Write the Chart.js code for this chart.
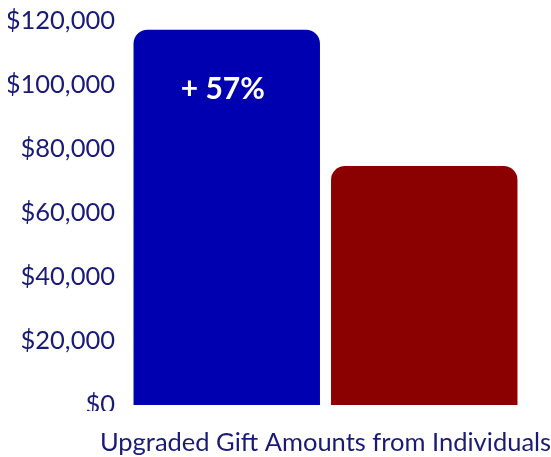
<!DOCTYPE html>
<html>
<head>
<meta charset="utf-8">
<script src="https://cdn.jsdelivr.net/npm/chart.js@4"></script>
<style>
  html, body { margin: 0; padding: 0; background: #fff; }
  #wrap { width: 551px; height: 457px; }
</style>
</head>
<body>
<div id="wrap"><canvas id="myChart" width="551" height="457"></canvas></div>
<script>
// chart data
const categories = ['Upgraded Gift Amounts from Individuals'];
const upgradedValues = [117300];
const previousValues = [74700];
const barLabel = '+ 57%';
const yTicks = [0, 20000, 40000, 60000, 80000, 100000, 120000];

const navy = '#1a1a78';

// draws the percent label inside the first bar
const barLabelPlugin = {
    id: 'barLabel',
    afterDatasetsDraw(chart) {
        const bar = chart.getDatasetMeta(0).data[0];
        const ctx = chart.ctx;
        ctx.save();
        ctx.fillStyle = '#ffffff';
        ctx.font = 'bold 30px Lato';
        ctx.textAlign = 'center';
        ctx.textBaseline = 'middle';
        ctx.fillText(barLabel, bar.x - 4, bar.y + 60);
        ctx.restore();
    },
    afterDraw(chart) {
        // the original cuts off the bottom of the $0 label
        const y = chart.scales.y;
        const ctx = chart.ctx;
        ctx.save();
        ctx.fillStyle = '#ffffff';
        ctx.fillRect(0, y.bottom + 6, y.right, 14);
        ctx.restore();
    }
};

const ctx = document.getElementById('myChart').getContext('2d');
const myChart = new Chart(ctx, {
    type: 'bar',
    data: {
        labels: categories,
        datasets: [{
            label: 'Upgraded',
            data: upgradedValues,
            backgroundColor: '#0000b0',
            borderRadius: 14,
            borderSkipped: 'bottom'
        }, {
            label: 'Previous',
            data: previousValues,
            backgroundColor: '#8b0000',
            borderRadius: 14,
            borderSkipped: 'bottom'
        }]
    },
    options: {
        responsive: false,
        animation: false,
        layout: { padding: { top: 0, left: 8, right: 28, bottom: 0 } },
        categoryPercentage: 1,
        barPercentage: 0.944,
        plugins: {
            legend: { display: false },
            tooltip: { enabled: false }
        },
        scales: {
            y: {
                min: 0,
                max: 120000,
                grid: { display: false, drawTicks: false },
                border: { display: false },
                afterBuildTicks(axis) {
                    axis.ticks = yTicks.map(v => ({ value: v }));
                },
                afterFit(axis) {
                    axis.width = 120;
                    axis.paddingTop = 21;
                },
                ticks: {
                    color: navy,
                    padding: 13,
                    font: { family: 'Lato', size: 25.5 },
                    callback: v => '$' + v.toLocaleString('en-US')
                }
            },
            x: {
                grid: { display: false, drawTicks: false },
                border: { display: false },
                afterFit(axis) {
                    // the long label may overflow the plot, like the original
                    axis.paddingLeft = 0;
                    axis.paddingRight = 0;
                    axis.height = 52;
                },
                ticks: {
                    color: navy,
                    padding: 22,
                    maxRotation: 0,
                    minRotation: 0,
                    autoSkip: false,
                    font: { family: 'Lato', size: 25.5 }
                }
            }
        }
    },
    plugins: [barLabelPlugin]
});
</script>
</body>
</html>
